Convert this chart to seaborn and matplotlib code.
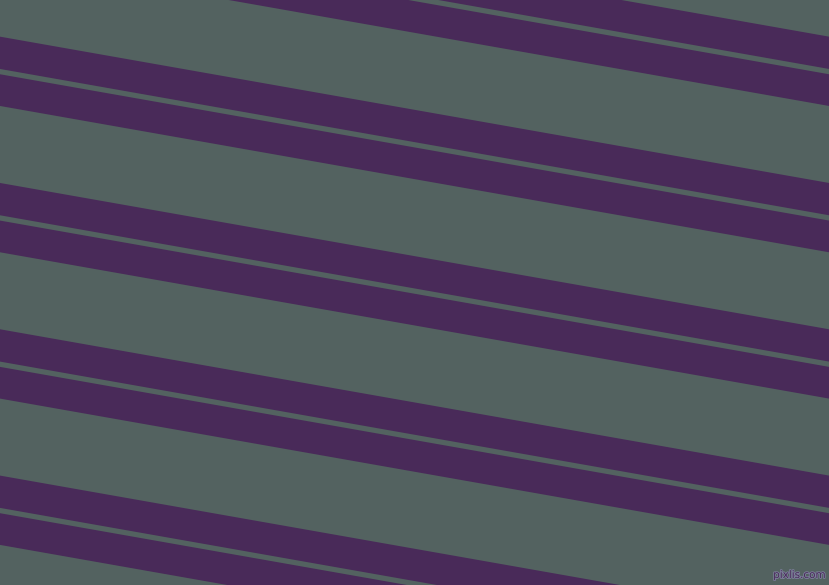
import matplotlib
matplotlib.use("Agg")
import matplotlib.pyplot as plt
import matplotlib.patheffects as pe
import numpy as np
import seaborn as sns

# stripe edges (pixel rows at left and right border)
stripe_top_left = [-109.6, -72.0, 36.7, 74.3, 183.0, 220.6, 329.3, 366.9, 475.6, 513.2]
stripe_top_right = [36.7, 74.3, 183.0, 220.6, 329.3, 366.9, 475.6, 513.2, 621.9, 659.5]
stripe_height = [32.3, 31.7, 32.3, 31.7, 32.3, 31.7, 32.3, 31.7, 32.3, 31.7]

bg_color = "#536260"
stripe_color = "#492a59"
W, H = 829, 585

sns.set_theme(style="white")
fig = plt.figure(figsize=(8.2905, 5.8505), dpi=100)
ax = fig.add_axes([0, 0, 1, 1])
ax.set_facecolor(bg_color)
fig.patch.set_facecolor(bg_color)

xs = np.array([0, W])
for yl, yr, h in zip(stripe_top_left, stripe_top_right, stripe_height):
    top = np.array([yl, yr])
    ax.fill_between(xs, top, top + h, color=stripe_color, linewidth=0)

ax.set_xlim(0, W)
ax.set_ylim(H, 0)
ax.axis("off")

ax.text(826, 580, "pixlis.com", ha="right", va="bottom", fontsize=7.5,
        color=stripe_color,
        path_effects=[pe.withStroke(linewidth=1.2, foreground="#7d7f9c")])

fig.savefig("out.png", dpi=100, facecolor=bg_color)
